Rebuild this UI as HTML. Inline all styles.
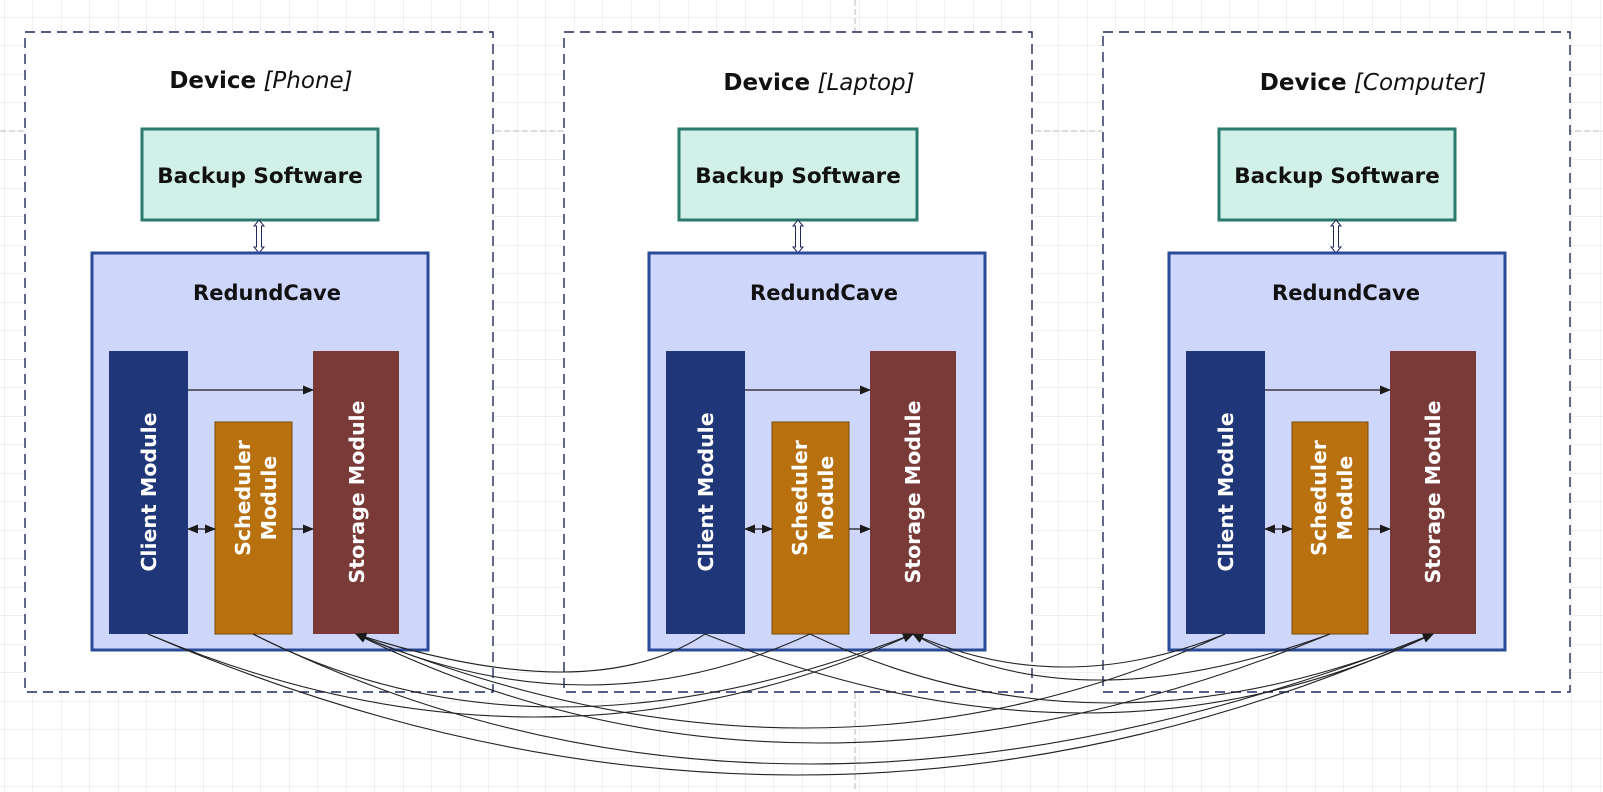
<!DOCTYPE html>
<html><head><meta charset="utf-8"><style>
html,body{margin:0;padding:0;background:#fff;}
svg{display:block;}
text{font-family:"DejaVu Sans","Liberation Sans",sans-serif;}
</style></head><body>
<svg width="1603" height="792" viewBox="0 0 1603 792" xmlns="http://www.w3.org/2000/svg">
<defs>
<pattern id="g" x="4" y="17" width="28.5" height="28.5" patternUnits="userSpaceOnUse">
<path d="M0 0H28.5M0 0V28.5" stroke="#e2e2e2" stroke-width="1" fill="none"/>
</pattern>
<marker id="ah" markerWidth="11" markerHeight="9" refX="10" refY="4.5" orient="auto" markerUnits="userSpaceOnUse">
<path d="M0 0L11 4.5L0 9Z" fill="#1a1a1a"/>
</marker>
<marker id="as" markerWidth="11" markerHeight="9" refX="1" refY="4.5" orient="auto" markerUnits="userSpaceOnUse">
<path d="M11 0L0 4.5L11 9Z" fill="#1a1a1a"/>
</marker>
</defs>
<rect width="1603" height="792" fill="url(#g)"/>
<line x1="0" y1="131" x2="1603" y2="131" stroke="#b8b8b8" stroke-dasharray="6 3"/>
<line x1="855" y1="0" x2="855" y2="792" stroke="#b8b8b8" stroke-dasharray="6 3"/>

<g fill="#fff" stroke="#1f2a5a" stroke-width="1.4" stroke-dasharray="10 6">
<rect x="25" y="32" width="468" height="660"/>
<rect x="564" y="32" width="468" height="660"/>
<rect x="1103" y="32" width="467" height="660"/>
</g>

<g font-size="23" fill="#111">
<text x="261" y="88" text-anchor="middle"><tspan font-weight="bold">Device</tspan> <tspan font-style="italic">[Phone]</tspan></text>
<text x="819" y="90" text-anchor="middle"><tspan font-weight="bold">Device</tspan> <tspan font-style="italic">[Laptop]</tspan></text>
<text x="1373" y="90" text-anchor="middle"><tspan font-weight="bold">Device</tspan> <tspan font-style="italic">[Computer]</tspan></text>
</g>

<g fill="#d0f0e8" stroke="#2a7a6e" stroke-width="3">
<rect x="142" y="129" width="236" height="91"/>
<rect x="679" y="129" width="238" height="91"/>
<rect x="1219" y="129" width="236" height="91"/>
</g>
<g font-size="21.5" font-weight="bold" fill="#111" text-anchor="middle">
<text x="260" y="183">Backup Software</text>
<text x="798" y="183">Backup Software</text>
<text x="1337" y="183">Backup Software</text>
</g>

<g fill="#fff" stroke="#1f2a5a" stroke-width="1">
<path d="M259 220 L264 226 L261.5 226 L261.5 247 L264 247 L259 253 L254 247 L256.5 247 L256.5 226 L254 226 Z"/>
<path d="M798 220 L803 226 L800.5 226 L800.5 247 L803 247 L798 253 L793 247 L795.5 247 L795.5 226 L793 226 Z"/>
<path d="M1336 220 L1341 226 L1338.5 226 L1338.5 247 L1341 247 L1336 253 L1331 247 L1333.5 247 L1333.5 226 L1331 226 Z"/>
</g>

<g fill="#cfd6fb" stroke="#2a4a9a" stroke-width="3">
<rect x="92" y="253" width="336" height="397"/>
<rect x="649" y="253" width="336" height="397"/>
<rect x="1169" y="253" width="336" height="397"/>
</g>
<g font-size="21" font-weight="bold" fill="#111" text-anchor="middle">
<text x="267" y="300">RedundCave</text>
<text x="824" y="300">RedundCave</text>
<text x="1346" y="300">RedundCave</text>
</g>

<rect x="109" y="351" width="79" height="283" fill="#1f3778"/>
<rect x="215" y="422" width="77" height="212" fill="#b8710e" stroke="#7a4a0a" stroke-width="1"/>
<rect x="313" y="351" width="86" height="283" fill="#7a3a38"/>
<rect x="666" y="351" width="79" height="283" fill="#1f3778"/>
<rect x="772" y="422" width="77" height="212" fill="#b8710e" stroke="#7a4a0a" stroke-width="1"/>
<rect x="870" y="351" width="86" height="283" fill="#7a3a38"/>
<rect x="1186" y="351" width="79" height="283" fill="#1f3778"/>
<rect x="1292" y="422" width="76" height="212" fill="#b8710e" stroke="#7a4a0a" stroke-width="1"/>
<rect x="1390" y="351" width="86" height="283" fill="#7a3a38"/>

<g font-size="20.5" font-weight="bold" fill="#fff" text-anchor="middle">
<text transform="translate(156,492) rotate(-90)">Client Module</text>
<text transform="translate(250,498) rotate(-90)">Scheduler</text>
<text transform="translate(276,498) rotate(-90)">Module</text>
<text transform="translate(364,492) rotate(-90)">Storage Module</text>
<text transform="translate(713,492) rotate(-90)">Client Module</text>
<text transform="translate(807,498) rotate(-90)">Scheduler</text>
<text transform="translate(833,498) rotate(-90)">Module</text>
<text transform="translate(920,492) rotate(-90)">Storage Module</text>
<text transform="translate(1233,492) rotate(-90)">Client Module</text>
<text transform="translate(1326,498) rotate(-90)">Scheduler</text>
<text transform="translate(1352,498) rotate(-90)">Module</text>
<text transform="translate(1440,492) rotate(-90)">Storage Module</text>
</g>

<g stroke="#1a1a1a" stroke-width="1.2" fill="none">
<line x1="188" y1="390" x2="313" y2="390" marker-end="url(#ah)"/>
<line x1="188" y1="529" x2="215" y2="529" marker-start="url(#as)" marker-end="url(#ah)"/>
<line x1="292" y1="529" x2="313" y2="529" marker-end="url(#ah)"/>
<line x1="745" y1="390" x2="870" y2="390" marker-end="url(#ah)"/>
<line x1="745" y1="529" x2="772" y2="529" marker-start="url(#as)" marker-end="url(#ah)"/>
<line x1="849" y1="529" x2="870" y2="529" marker-end="url(#ah)"/>
<line x1="1265" y1="390" x2="1390" y2="390" marker-end="url(#ah)"/>
<line x1="1265" y1="529" x2="1292" y2="529" marker-start="url(#as)" marker-end="url(#ah)"/>
<line x1="1368" y1="529" x2="1390" y2="529" marker-end="url(#ah)"/>
</g>

<g stroke="#222" stroke-width="1.1" fill="none" marker-end="url(#ah)">
<path d="M705 634 Q591 710 356 634"/>
<path d="M810 634 Q591 736 356 634"/>
<path d="M148 634 Q541 800 913 634"/>
<path d="M253 634 Q537 780 913 634"/>
<path d="M1225 634 Q1061 700 913 634"/>
<path d="M1330 634 Q1078 726 913 634"/>
<path d="M705 634 Q1099 792 1433 634"/>
<path d="M810 634 Q1098 772 1433 634"/>
<path d="M148 634 Q803 916 1433 634"/>
<path d="M253 634 Q777 894 1433 634"/>
<path d="M1225 634 Q817 822 356 634"/>
<path d="M1330 634 Q797 852 356 634"/>
</g>
</svg>
</body></html>
